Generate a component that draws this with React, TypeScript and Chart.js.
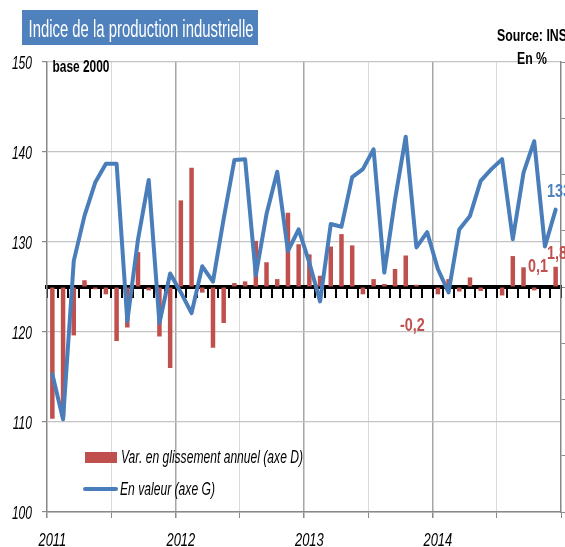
import React, { useEffect, useRef } from 'react';
import { Chart, registerables } from 'chart.js';

Chart.register(...registerables);

// ---- data ----
const yearLabels = ['2011', '2012', '2013', '2014'];
const monthCodes = ['01', '02', '03', '04', '05', '06', '07', '08', '09', '10', '11', '12'];
const categories = yearLabels.flatMap((y) => monthCodes.map((m) => `${m}/${y}`));

// En valeur (axe G) - indice base 2000
const indexValues = [
  115.3, 110.3, 127.9, 132.9, 136.6, 138.7, 138.7, 121.2, 130.3, 136.9, 121.0, 126.5,
  124.4, 122.1, 127.3, 125.6, 132.6, 139.1, 139.2, 126.3, 133.1, 137.8, 129.0, 131.4,
  127.7, 123.4, 132.0, 131.7, 137.2, 138.1, 140.3, 126.6, 134.7, 141.7, 129.4, 131.1,
  127.0, 124.4, 131.4, 132.9, 136.8, 138.1, 139.2, 130.3, 137.7, 141.2, 129.5, 133.6,
];

// Var. en glissement annuel (axe D), en %
const yoyValues = [
  -11.7, -11.5, -4.3, 0.6, -0.2, -0.65, -4.8, -3.6, 3.1, -0.3, -4.4, -7.2,
  7.7, 10.6, -0.5, -5.4, -3.2, 0.35, 0.5, 4.1, 2.2, 0.7, 6.6, 3.8,
  2.9, 1.0, 3.6, 4.7, 3.7, -0.65, 0.7, 0.27, 1.6, 2.8, 0.2, 0.05,
  -0.65, 0.7, -0.4, 0.85, -0.35, 0.05, -0.75, 2.75, 1.75, -0.3, 0.05, 1.8,
];

const leftTicks = [100, 110, 120, 130, 140, 150];
const valueLabels = [
  { text: '133,6', color: '#4F81BD', x: 547, y: 197 },
  { text: '1,8', color: '#C0504D', x: 547, y: 259 },
  { text: '0,1', color: '#C0504D', x: 528, y: 272 },
  { text: '-0,2', color: '#C0504D', x: 400, y: 331 },
];

const TITLE = 'Indice de la production industrielle';
const LEGEND_BAR = 'Var. en glissement annuel (axe D)';
const LEGEND_LINE = 'En valeur (axe G)';

const FF = '"Liberation Sans", Arial, sans-serif';
const BLUE = '#4A7EBB';
const RED = '#C0504D';

function drawText(
  ctx: CanvasRenderingContext2D,
  s: string,
  x: number,
  y: number,
  font: string,
  color: string,
  sx: number,
  align: CanvasTextAlign = 'left'
) {
  ctx.save();
  ctx.font = font;
  ctx.fillStyle = color;
  ctx.textBaseline = 'alphabetic';
  ctx.textAlign = align;
  ctx.translate(x, y);
  ctx.scale(sx, 1);
  ctx.fillText(s, 0, 0);
  ctx.restore();
}

function fitText(
  ctx: CanvasRenderingContext2D,
  s: string,
  x: number,
  y: number,
  font: string,
  color: string,
  width: number,
  align: CanvasTextAlign = 'left'
) {
  ctx.save();
  ctx.font = font;
  const w = ctx.measureText(s).width || 1;
  ctx.restore();
  drawText(ctx, s, x, y, font, color, width / w, align);
}

const decorPlugin = {
  id: 'decor',
  afterDraw(chart: any) {
    const ctx: CanvasRenderingContext2D = chart.ctx;
    // title box
    ctx.save();
    ctx.fillStyle = '#4F81BD';
    ctx.fillRect(22, 10, 236, 35);
    ctx.restore();
    fitText(ctx, TITLE, 28.5, 37, `23px ${FF}`, '#FFFFFF', 225);

    fitText(ctx, 'Source: INS', 497, 41, `bold 17px ${FF}`, '#000', 70);
    fitText(ctx, 'En %', 517, 63.5, `bold 17px ${FF}`, '#000', 30);
    fitText(ctx, 'base 2000', 52.5, 71.5, `bold 16px ${FF}`, '#000', 57);

    // left axis labels
    const ys = chart.scales.y;
    ys.ticks.forEach((t: any) => {
      if (!leftTicks.includes(t.value)) return;
      const py = ys.getPixelForValue(t.value);
      drawText(ctx, String(t.value), 32, py + 6.5, `italic 18px ${FF}`, '#000', 0.67, 'right');
    });

    // year labels on january categories
    const xs = chart.scales.x;
    yearLabels.forEach((yl, k) => {
      const px = xs.getPixelForTick(k * 12);
      drawText(ctx, yl, px, 546, `italic 19px ${FF}`, '#000', 0.68, 'center');
    });

    // legend
    ctx.save();
    ctx.fillStyle = RED;
    ctx.fillRect(85, 452, 32, 11);
    ctx.strokeStyle = BLUE;
    ctx.lineWidth = 4;
    ctx.lineCap = 'round';
    ctx.beginPath();
    ctx.moveTo(85, 489);
    ctx.lineTo(116, 489);
    ctx.stroke();
    ctx.restore();
    fitText(ctx, LEGEND_BAR, 121, 463, `italic 18px ${FF}`, '#000', 182);
    fitText(ctx, LEGEND_LINE, 120, 495, `italic 18px ${FF}`, '#000', 95);

    // value labels
    valueLabels.forEach((l) => {
      drawText(ctx, l.text, l.x, l.y, `bold 18px ${FF}`, l.color, 0.8, 'left');
    });
  },
};

export default function App() {
  const ref = useRef<HTMLCanvasElement | null>(null);

  useEffect(() => {
    if (!ref.current) return;
    const chart = new Chart(ref.current, {
      type: 'bar',
      data: {
        labels: categories,
        datasets: [
          {
            type: 'line',
            label: LEGEND_LINE,
            data: indexValues,
            yAxisID: 'y',
            xAxisID: 'x',
            borderColor: BLUE,
            borderWidth: 4,
            pointRadius: 0,
            tension: 0,
            borderJoinStyle: 'round',
            borderCapStyle: 'round',
            order: 0,
          } as any,
          {
            type: 'bar',
            label: LEGEND_BAR,
            data: yoyValues,
            yAxisID: 'yR',
            xAxisID: 'x',
            backgroundColor: RED,
            barPercentage: 0.42,
            categoryPercentage: 1,
            order: 1,
          } as any,
        ],
      },
      options: {
        responsive: false,
        animation: false,
        devicePixelRatio: 1,
        layout: { padding: { top: 62, left: 0, right: 0, bottom: 0 } },
        plugins: {
          legend: { display: false },
          tooltip: { enabled: false },
          title: { display: false },
        },
        scales: {
          x: {
            type: 'category',
            position: 'bottom',
            offset: true,
            grid: {
              offset: true,
              drawOnChartArea: true,
              drawTicks: true,
              tickLength: 6,
              color: (c: any) => {
                const i = c.index;
                if (i === undefined || i === 0) return 'rgba(0,0,0,0)';
                if (i % 12 === 0) return '#a6a6a6';
                if (i % 6 === 0) return '#dadada';
                return 'rgba(0,0,0,0)';
              },
              tickColor: (c: any) => {
                const i = c.index;
                if (i === undefined) return '#888';
                return i % 6 === 0 ? '#888' : 'rgba(0,0,0,0)';
              },
              lineWidth: (c: any) => (c.index !== undefined && c.index % 12 === 0 ? 1.5 : 1),
            },
            border: { display: true, color: '#888', width: 1.5 },
            ticks: { display: false, autoSkip: false },
            afterFit: (s: any) => {
              s.height = 35;
            },
          },
          x2: {
            type: 'category',
            position: { yR: 0 } as any,
            offset: true,
            grid: {
              offset: true,
              drawOnChartArea: false,
              drawTicks: true,
              tickLength: 9,
              color: '#000',
              lineWidth: 2,
            },
            border: { display: true, color: '#000', width: 4 },
            ticks: { display: false, autoSkip: false },
            afterFit: (s: any) => {
              s.height = 0;
            },
          },
          y: {
            type: 'linear',
            position: 'left',
            min: 100,
            max: 150,
            ticks: { display: false, stepSize: 10 },
            grid: { color: '#c4c4c4', lineWidth: 1.2, tickLength: 5, tickColor: '#888' },
            border: { display: true, color: '#888', width: 1.5 },
            afterFit: (s: any) => {
              s.width = 47;
            },
          },
          yR: {
            type: 'linear',
            position: 'right',
            min: -20,
            max: 20,
            ticks: { display: false, stepSize: 5 },
            grid: { drawOnChartArea: false, tickLength: 5, color: '#888' },
            border: { display: true, color: '#888', width: 1.5 },
            afterFit: (s: any) => {
              s.width = 4;
            },
          },
        },
      } as any,
      plugins: [decorPlugin],
    });
    return () => chart.destroy();
  }, []);

  return (
    <div style={{ position: 'fixed', left: 0, top: 0, width: 565, height: 547, background: '#fff' }}>
      <canvas ref={ref} width={565} height={547} style={{ display: 'block', width: 565, height: 547 }} />
    </div>
  );
}
